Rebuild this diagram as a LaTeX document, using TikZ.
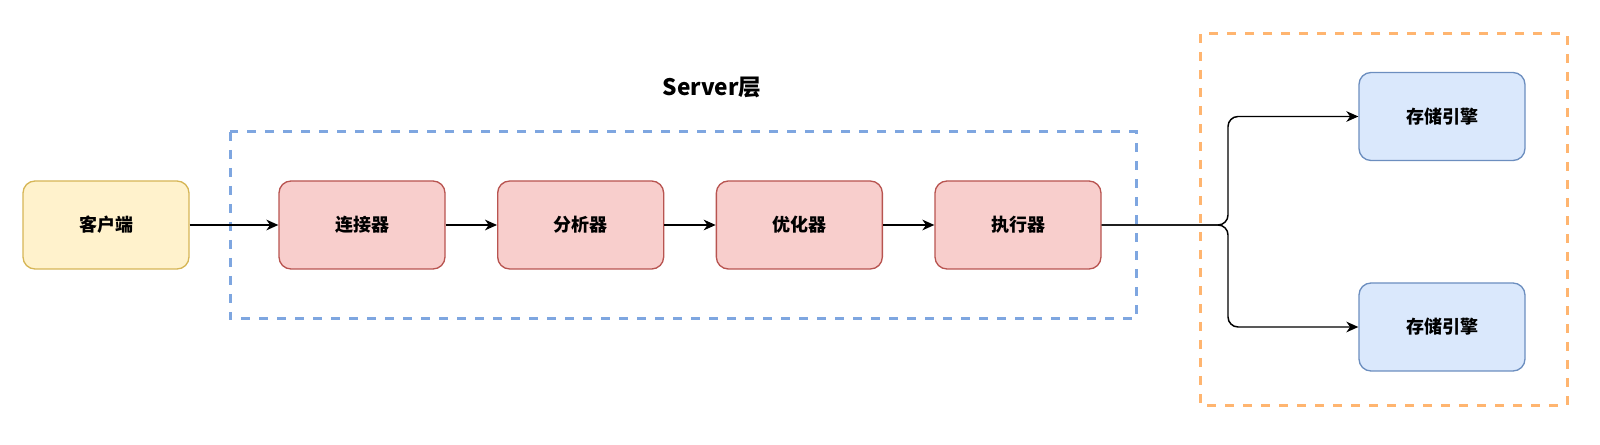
\documentclass[tikz,border=0pt]{standalone}
\usepackage{fontspec}
\setmainfont{Noto Sans CJK SC}
\usepackage{tikz}
\usetikzlibrary{positioning, arrows.meta}

\definecolor{clientfill}{HTML}{FFF2CC}
\definecolor{clientline}{HTML}{D6B656}
\definecolor{partfill}{HTML}{F8CECC}
\definecolor{partline}{HTML}{B85450}
\definecolor{storefill}{HTML}{DAE8FC}
\definecolor{storeline}{HTML}{6C8EBF}
\definecolor{serverline}{HTML}{7EA6E0}
\definecolor{engineline}{HTML}{FFB570}

\begin{document}
\begin{tikzpicture}[x=0.75pt, y=-0.75pt, node distance=38.5pt,
        box/.style={draw, rounded corners=9pt, line width=1pt, minimum width=124.5pt,
            minimum height=66pt, font=\fontsize{13.5}{15}\selectfont\bfseries},
        group/.style={line width=2.25pt, dash pattern=on 6.75pt off 6.75pt},
        flow/.style={line width=1.1pt, -{Stealth[length=9pt, width=8pt, inset=2.8pt]}}]
            \useasboundingbox (0,0) rectangle (1600,445);

            % dashed groups
            \draw [group, serverline] (230,132) rectangle (1136,319);
            \draw [group, engineline] (1200,34) rectangle (1567,405);
            \node (Title) at (712,87) {\fontsize{17}{20}\selectfont\bfseries Server层};

            \node [box, fill=clientfill, draw=clientline] (Client) at (106,225) {客户端};
            \node [box, fill=partfill, draw=partline, right=66.5pt of Client] (Conn) {连接器};
            \node [box, fill=partfill, draw=partline, right=of Conn] (Parser) {分析器};
            \node [box, fill=partfill, draw=partline, right=of Parser] (Optim) {优化器};
            \node [box, fill=partfill, draw=partline, right=of Optim] (Exec) {执行器};

            \node [box, fill=storefill, draw=storeline] (StoreA) at (1442,116.5) {存储引擎};
            \node [box, fill=storefill, draw=storeline] (StoreB) at (1442,327) {存储引擎};

            \coordinate (Split) at (1228,225);

            \draw [flow] (Client) -- (Conn);
            \draw [flow] (Conn) -- (Parser);
            \draw [flow] (Parser) -- (Optim);
            \draw [flow] (Optim) -- (Exec);
            \draw [flow, rounded corners=7.5pt] 
                (Exec.east) -- (Split) |- (StoreA.west);
            \draw [flow, rounded corners=7.5pt] 
                (Exec.east) -- (Split) |- (StoreB.west);

        \end{tikzpicture}
\end{document}
